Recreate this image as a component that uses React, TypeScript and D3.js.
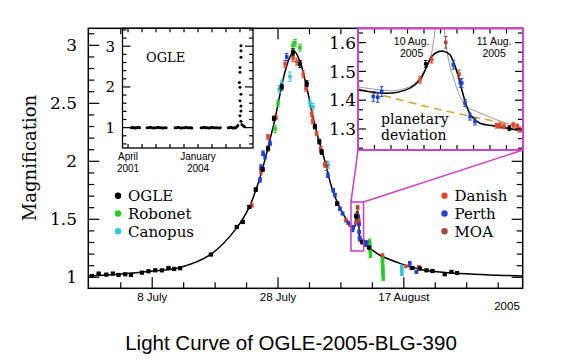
import { useEffect, useRef } from 'react';
import * as d3 from 'd3';

// t = days after 30 June 2005, A = magnification, e = error
type Pt = [number, number, number];

const W = 561;
const H = 362;

const ogle: Pt[] = [
    [-1.57, 1.011, 0.006], [-0.52, 1.032, 0.006], [0.7, 1.023, 0.006], [1.76, 1.032, 0.006],
    [2.65, 1.02, 0.006], [3.71, 1.026, 0.006], [4.62, 1.02, 0.006], [6.37, 1.04, 0.006],
    [7.41, 1.052, 0.006], [8.48, 1.06, 0.006], [9.54, 1.06, 0.006], [10.59, 1.08, 0.006],
    [11.49, 1.072, 0.006], [12.44, 1.078, 0.006], [17.32, 1.196, 0.008], [21.44, 1.434, 0.01],
    [22.4, 1.477, 0.01], [23.44, 1.606, 0.012], [24.46, 1.756, 0.015], [25.57, 1.93, 0.015],
    [26.41, 2.11, 0.02], [27.37, 2.37, 0.02], [28.59, 2.64, 0.025], [30.38, 2.94, 0.03],
    [31.49, 2.84, 0.03], [32.56, 2.67, 0.025], [33.87, 2.3, 0.02], [34.56, 2.17, 0.02],
    [34.94, 2.08, 0.02], [37.41, 1.635, 0.015], [40.421, 1.526, 0.012], [41.434, 1.303, 0.008],
    [42.49, 1.256, 0.01], [49.37, 1.08, 0.008], [50.54, 1.075, 0.008], [51.6, 1.06, 0.008],
    [52.56, 1.054, 0.008], [54.5, 1.026, 0.008], [55.57, 1.046, 0.008], [56.46, 1.037, 0.008],
];

const robonet: Pt[] = [
    [27.52, 2.28, 0.03], [28.0, 2.5, 0.03], [30.38, 3.0, 0.03], [30.7, 3.02, 0.03], [31.49, 2.98, 0.03],
    [42.55, 1.31, 0.02], [42.6, 1.27, 0.02], [42.65, 1.23, 0.02], [42.7, 1.19, 0.02],
    [44.6, 1.16, 0.02], [44.62, 1.13, 0.02], [44.65, 1.09, 0.02], [44.68, 1.06, 0.02],
    [44.7, 1.03, 0.02], [44.72, 0.99, 0.02],
];

const canopus: Pt[] = [
    [28.2, 2.62, 0.03], [28.59, 2.67, 0.03], [29.9, 2.73, 0.04], [33.08, 2.5, 0.03],
    [33.56, 2.47, 0.03], [35.95, 1.97, 0.03],
    [47.65, 1.09, 0.015], [47.68, 1.06, 0.015], [47.7, 1.03, 0.015],
];

const danish: Pt[] = [
    [23.83, 1.62, 0.015], [25.3, 1.91, 0.02], [26.41, 2.21, 0.02], [27.68, 2.38, 0.02],
    [29.11, 2.84, 0.03], [30.38, 2.89, 0.03], [30.97, 2.86, 0.03], [32.02, 2.75, 0.03],
    [32.44, 2.63, 0.025], [33.35, 2.41, 0.025], [33.51, 2.35, 0.025], [34.14, 2.24, 0.02],
    [34.78, 2.11, 0.02], [35.46, 1.97, 0.02], [38.79, 1.49, 0.012], [39.43, 1.45, 0.012],
    [40.352, 1.471, 0.012], [40.493, 1.541, 0.012], [41.281, 1.311, 0.008], [41.321, 1.311, 0.008],
    [41.37, 1.309, 0.008], [41.482, 1.314, 0.008], [41.531, 1.309, 0.008], [41.555, 1.297, 0.008],
    [44.6, 1.19, 0.01], [48.3, 1.095, 0.01], [50.4, 1.09, 0.01],
];

const perth: Pt[] = [
    [25.14, 1.84, 0.02], [25.3, 1.95, 0.02], [25.62, 2.07, 0.02], [25.94, 2.04, 0.02],
    [26.73, 2.155, 0.02], [29.38, 2.9, 0.03], [35.94, 1.88, 0.02], [36.78, 1.75, 0.015],
    [37.05, 1.71, 0.015], [37.84, 1.59, 0.015], [38.27, 1.55, 0.012], [39.16, 1.47, 0.012],
    [39.785, 1.413, 0.017], [39.839, 1.41, 0.017], [39.887, 1.43, 0.017], [40.755, 1.523, 0.015],
    [40.84, 1.46, 0.015], [40.857, 1.46, 0.015], [40.897, 1.39, 0.012], [40.958, 1.343, 0.012],
    [41.018, 1.326, 0.012], [41.8, 1.28, 0.015], [42.08, 1.3, 0.015],
    [48.95, 1.12, 0.015], [49.2, 1.08, 0.01], [50.0, 1.046, 0.01],
];

const moa: Pt[] = [
    [35.7, 1.96, 0.04], [40.663, 1.601, 0.02], [40.824, 1.49, 0.015],
];

// fitted model
const modelCurve: [number, number][] = [
    [-2.16, 1.01], [2.92, 1.028], [7.68, 1.052], [12.44, 1.085], [17.37, 1.2], [21.5, 1.43],
    [23.56, 1.62], [24.46, 1.75], [25.14, 1.86], [26.0, 2.03], [26.73, 2.19], [27.5, 2.36],
    [28.32, 2.58], [29.1, 2.77], [29.9, 2.9], [30.6, 2.95], [31.5, 2.86], [32.6, 2.63],
    [33.4, 2.42], [34.2, 2.24], [35.46, 2.0], [36.73, 1.74], [38.3, 1.55], [39.0, 1.49],
    [39.604, 1.436], [39.867, 1.425], [40.069, 1.427], [40.23, 1.442], [40.352, 1.471],
    [40.433, 1.517], [40.493, 1.552], [40.554, 1.566], [40.634, 1.57], [40.715, 1.558],
    [40.755, 1.535], [40.816, 1.483], [40.869, 1.425], [40.918, 1.378], [40.978, 1.343],
    [41.079, 1.32], [41.24, 1.311], [41.402, 1.303], [41.584, 1.294],
    [42.6, 1.25], [44.2, 1.19], [47.4, 1.12], [50.5, 1.07], [53.7, 1.045], [56.9, 1.032],
    [61.65, 1.02], [66.9, 1.012],
];

const altModel: [number, number][] = [
    [39.604, 1.446], [39.867, 1.436], [40.069, 1.434], [40.267, 1.454], [40.388, 1.494],
    [40.473, 1.541], [40.513, 1.599], [40.533, 1.64], [40.558, 1.7], [40.594, 1.78],
    [40.63, 1.7], [40.648, 1.64], [40.675, 1.576], [40.715, 1.517], [40.752, 1.483],
    [40.836, 1.413], [40.918, 1.378], [41.079, 1.356], [41.281, 1.332], [41.479, 1.314],
    [41.596, 1.308],
];

const singleLens: [number, number][] = [
    [39.604, 1.439], [40.594, 1.367], [41.596, 1.308],
];

// OGLE long-term photometry, HJD - 2450000
const ogleLongTerm: [number, number][] = [
    [2048, 1.0], [2062, 1.01], [2078, 1.0], [2095, 0.99], [2112, 1.0], [2130, 1.0], [2148, 1.01], [2165, 1.0],
    [2272, 1.0], [2295, 1.0], [2318, 1.01], [2340, 1.0], [2362, 0.99], [2385, 1.0], [2408, 1.0],
    [2430, 1.01], [2452, 1.0], [2475, 1.0], [2498, 0.99], [2520, 1.0], [2545, 1.0],
    [2672, 1.0], [2695, 1.0], [2718, 1.01], [2740, 1.0], [2762, 0.99], [2785, 1.0], [2808, 1.0],
    [2830, 1.01], [2852, 1.0], [2875, 1.0], [2898, 1.0], [2912, 0.99],
    [3045, 1.0], [3068, 1.0], [3090, 1.01], [3112, 1.0], [3135, 1.0], [3158, 0.99], [3180, 1.0],
    [3202, 1.01], [3225, 1.0], [3248, 1.0], [3270, 1.0], [3295, 0.99], [3318, 1.0],
    [3432, 1.0], [3450, 1.0], [3468, 1.01], [3486, 1.0], [3504, 0.99], [3522, 1.0], [3540, 1.0],
    [3556, 1.02], [3568, 1.05],
    [3614, 3.01], [3614, 2.89], [3614, 2.73], [3600, 2.48], [3600, 2.36], [3590, 2.11], [3600, 1.99],
    [3614, 1.82], [3600, 1.66], [3614, 1.53], [3614, 1.41], [3600, 1.29], [3614, 1.16], [3628, 1.08],
    [3650, 1.04], [3665, 1.02],
];

const xTickDays = [3, 8, 13, 18, 23, 28, 33, 38, 43, 48, 53, 58, 63];
const xLabelDays = [8, 28, 48];
const xLabels = ['8 July', '28 July', '17 August'];
const yMajor = [1, 1.5, 2, 2.5, 3];
const yLabels = ['1', '1.5', '2', '2.5', '3'];

const ogleXTicks = [2000, 2200, 2400, 2600, 2800, 3000, 3200, 3400, 3600];
const ogleXLabelAt = [2000, 3000];
const ogleXLabels = [['April', '2001'], ['January', '2004']];
const ogleYMajor = [1, 2, 3];

const zoomXTicks = [39.8, 40.0, 40.2, 40.4, 40.6, 40.8, 41.0, 41.2, 41.4];
const zoomXLabelAt = [40.25, 41.25];
const zoomXLabels = [['10 Aug.', '2005'], ['11 Aug.', '2005']];
const zoomYMajor = [1.3, 1.4, 1.5, 1.6];
const zoomYLabels = ['1.3', '1.4', '1.5', '1.6'];

const seriesNames = ['OGLE', 'Robonet', 'Canopus', 'Danish', 'Perth', 'MOA'];
const seriesData = [ogle, robonet, canopus, danish, perth, moa];
const seriesColors = ['#000000', '#22cc22', '#33c8d6', '#e0452e', '#1e3fd6', '#a8473a'];

const SERIF = "'DejaVu Serif', serif";
const SANS = "'Liberation Sans', Arial, sans-serif";
const MAGENTA = '#cc44cc';

export default function App() {
    const ref = useRef<SVGSVGElement>(null);

    useEffect(() => {
        if (!ref.current) return;
        const svg = d3.select(ref.current);
        svg.selectAll('*').remove();

        const x = d3.scaleLinear().domain([-2.16, 66.9]).range([88.3, 522.7]);
        const y = d3.scaleLinear().domain([0.905, 3.147]).range([288.3, 28.3]);

        const ox = d3.scaleLinear().domain([1921, 3786]).range([122.5, 253]);
        const oy = d3.scaleLinear().domain([0.5, 3.44]).range([148, 28.3]);

        const zx = d3.scaleLinear().domain([39.6, 41.6]).range([358, 523]);
        const zy = d3.scaleLinear().domain([1.227, 1.649]).range([150, 28.5]);

        svg.append('rect').attr('width', W).attr('height', H).attr('fill', '#fff');

        // generic frame with inward ticks
        const frame = (g: any, sx: any, sy: any, xt: number[], xMaj: number[], yt: number[], yMaj: number[],
            stroke: string, sw: number, long: number, short: number) => {
            const [x0, x1] = sx.range();
            const [y1, y0] = sy.range();
            xt.forEach(v => {
                const L = xMaj.includes(v) ? long : short;
                g.append('line').attr('x1', sx(v)).attr('x2', sx(v)).attr('y1', y1).attr('y2', y1 - L)
                    .attr('stroke', '#000').attr('stroke-width', 1.2);
                g.append('line').attr('x1', sx(v)).attr('x2', sx(v)).attr('y1', y0).attr('y2', y0 + L)
                    .attr('stroke', '#000').attr('stroke-width', 1.2);
            });
            yt.forEach(v => {
                const L = yMaj.some(m => Math.abs(m - v) < 1e-6) ? long : short;
                g.append('line').attr('x1', x0).attr('x2', x0 + L).attr('y1', sy(v)).attr('y2', sy(v))
                    .attr('stroke', '#000').attr('stroke-width', 1.2);
                g.append('line').attr('x1', x1).attr('x2', x1 - L).attr('y1', sy(v)).attr('y2', sy(v))
                    .attr('stroke', '#000').attr('stroke-width', 1.2);
            });
            g.append('rect').attr('x', x0).attr('y', y0).attr('width', x1 - x0).attr('height', y1 - y0)
                .attr('fill', 'none').attr('stroke', stroke).attr('stroke-width', sw);
        };

        const points = (g: any, sx: any, sy: any, data: Pt[], color: string, size: number) => {
            data.forEach(([t, a, e]) => {
                const cx = sx(t);
                const ya = sy(a - e), yb = sy(a + e);
                g.append('line').attr('x1', cx).attr('x2', cx).attr('y1', ya).attr('y2', yb)
                    .attr('stroke', color).attr('stroke-width', 1);
                [ya, yb].forEach(yy => g.append('line').attr('x1', cx - 1.8).attr('x2', cx + 1.8)
                    .attr('y1', yy).attr('y2', yy).attr('stroke', color).attr('stroke-width', 1));
                g.append('rect').attr('x', cx - size / 2).attr('y', sy(a) - size / 2)
                    .attr('width', size).attr('height', size).attr('fill', color);
            });
        };

        // ---- main panel ----
        const main = svg.append('g');
        const yMinor = d3.range(10, 32).map(k => k / 10);
        frame(main, x, y, xTickDays, xLabelDays, yMinor, yMajor, '#000', 1.5, 11, 6);

        const line = d3.line<[number, number]>().x(d => x(d[0])).y(d => y(d[1])).curve(d3.curveCatmullRom.alpha(0.5));
        main.append('path').attr('d', line(modelCurve)).attr('fill', 'none')
            .attr('stroke', '#000').attr('stroke-width', 1.5);

        seriesData.forEach((data, i) => {
            if (i === 0) return;
            points(main, x, y, data, seriesColors[i], 3.6);
        });
        points(main, x, y, ogle, '#000', 4.2);

        yMajor.forEach((v, i) => {
            main.append('text').attr('x', 77).attr('y', y(v)).attr('dy', '0.36em')
                .attr('text-anchor', 'end').attr('font-family', SERIF).attr('font-size', 17)
                .text(yLabels[i]);
        });
        xLabelDays.forEach((v, i) => {
            main.append('text').attr('x', x(v)).attr('y', 301).attr('text-anchor', 'middle')
                .attr('font-family', SANS).attr('font-size', 11.5).text(xLabels[i]);
        });
        main.append('text').attr('x', 507).attr('y', 310).attr('text-anchor', 'middle')
            .attr('font-family', SANS).attr('font-size', 11.5).text('2005');

        main.append('text').attr('transform', 'translate(36,158) rotate(-90)').attr('text-anchor', 'middle')
            .attr('font-family', SERIF).attr('font-size', 18).text('Magnification');

        svg.append('text').attr('x', 291).attr('y', 350).attr('text-anchor', 'middle')
            .attr('font-family', SANS).attr('font-size', 20.5).text('Light Curve of OGLE-2005-BLG-390');

        // legends
        const legendRows = [195.7, 213.5, 231.3];
        seriesNames.forEach((name, i) => {
            const lx = i < 3 ? 118 : 444.5;
            const ly = legendRows[i % 3];
            main.append('circle').attr('cx', lx).attr('cy', ly).attr('r', 3.2).attr('fill', seriesColors[i]);
            main.append('text').attr('x', lx + 10).attr('y', ly).attr('dy', '0.36em')
                .attr('font-family', SERIF).attr('font-size', 15).text(name);
        });

        // ---- OGLE long-term inset ----
        const og = svg.append('g');
        og.append('rect').attr('x', 122.5).attr('y', 28.3).attr('width', 130.5).attr('height', 119.7).attr('fill', '#fff');
        frame(og, ox, oy, ogleXTicks, [], d3.range(3, 18).map(k => k / 5), ogleYMajor, '#000', 1.3, 8, 4);
        ogleLongTerm.forEach(([h, a]) => {
            og.append('circle').attr('cx', ox(h)).attr('cy', oy(a)).attr('r', 1.5).attr('fill', '#000');
        });
        ogleYMajor.forEach(v => {
            og.append('text').attr('x', 115).attr('y', oy(v)).attr('dy', '0.36em').attr('text-anchor', 'end')
                .attr('font-family', SERIF).attr('font-size', 15).text(String(v));
        });
        ogleXLabelAt.forEach((v, i) => {
            ogleXLabels[i].forEach((s, j) => {
                og.append('text').attr('x', ox(v)).attr('y', 159.5 + j * 12).attr('text-anchor', 'middle')
                    .attr('font-family', SANS).attr('font-size', 10).text(s);
            });
        });
        og.append('text').attr('x', 146).attr('y', 62).attr('font-family', SERIF).attr('font-size', 13).text('OGLE');

        // ---- zoom inset ----
        const [bx0, bx1] = [x(zx.domain()[0]), x(zx.domain()[1])];
        const [by0, by1] = [y(zy.domain()[1]), y(zy.domain()[0])];
        svg.append('line').attr('x1', bx0).attr('y1', by0).attr('x2', 358).attr('y2', 150)
            .attr('stroke', MAGENTA).attr('stroke-width', 1.6);
        svg.append('line').attr('x1', bx1).attr('y1', by0).attr('x2', 523).attr('y2', 150)
            .attr('stroke', MAGENTA).attr('stroke-width', 1.6);
        svg.append('rect').attr('x', bx0).attr('y', by0).attr('width', bx1 - bx0).attr('height', by1 - by0)
            .attr('fill', 'none').attr('stroke', MAGENTA).attr('stroke-width', 1.6);

        const zg = svg.append('g');
        zg.append('rect').attr('x', 358).attr('y', 28.5).attr('width', 165).attr('height', 121.5).attr('fill', '#fff');
        svg.append('clipPath').attr('id', 'zclip').append('rect')
            .attr('x', 358).attr('y', 28.5).attr('width', 165).attr('height', 121.5);
        const inner = zg.append('g').attr('clip-path', 'url(#zclip)');

        const zl = d3.line<[number, number]>().x(d => zx(d[0])).y(d => zy(d[1])).curve(d3.curveCatmullRom.alpha(0.5));
        inner.append('path').attr('d', zl(singleLens)).attr('fill', 'none').attr('stroke', '#d9a030')
            .attr('stroke-width', 1.5).attr('stroke-dasharray', '8,5');
        inner.append('path').attr('d', zl(altModel)).attr('fill', 'none').attr('stroke', '#999')
            .attr('stroke-width', 1);
        inner.append('path').attr('d', zl(modelCurve.filter(d => d[0] > 39 && d[0] < 42.7)))
            .attr('fill', 'none').attr('stroke', '#000').attr('stroke-width', 1.6);
        seriesData.forEach((data, i) => {
            points(inner, zx, zy, data.filter(d => d[0] > 39.6 && d[0] < 41.6), seriesColors[i], 3.6);
        });

        const zMinor = d3.range(37, 50).map(k => k / 30);
        frame(zg, zx, zy, zoomXTicks, [], zMinor, zoomYMajor, MAGENTA, 2, 8, 5);
        zoomYMajor.forEach((v, i) => {
            zg.append('text').attr('x', 356).attr('y', zy(v)).attr('dy', '0.36em').attr('text-anchor', 'end')
                .attr('font-family', SERIF).attr('font-size', 17).text(zoomYLabels[i]);
        });
        zoomXLabelAt.forEach((v, i) => {
            zoomXLabels[i].forEach((s, j) => {
                zg.append('text').attr('x', zx(v)).attr('y', 45 + j * 12).attr('text-anchor', 'middle')
                    .attr('font-family', SANS).attr('font-size', 10.5).text(s);
            });
        });
        ['planetary', 'deviation'].forEach((s, j) => {
            zg.append('text').attr('x', 381).attr('y', 123.5 + j * 16.5).attr('font-family', SERIF)
                .attr('font-size', 14).text(s);
        });
    }, []);

    return (
        <svg ref={ref} width={W} height={H} style={{ position: 'fixed', left: 0, top: 0 }} />
    );
}
